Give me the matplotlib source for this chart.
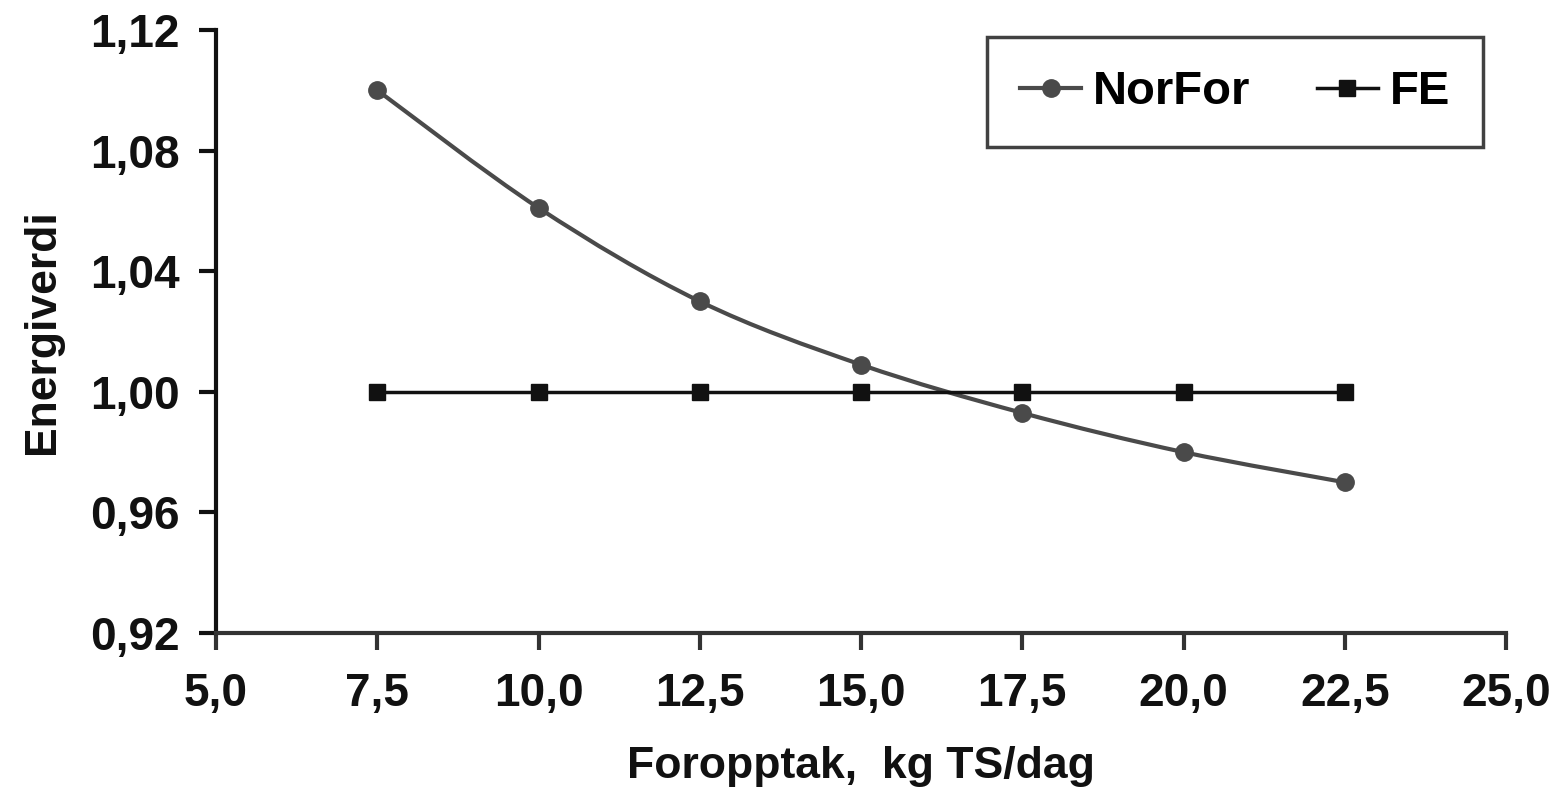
import numpy as np
import matplotlib
matplotlib.use("Agg")
import matplotlib.pyplot as plt
from matplotlib.path import Path
from matplotlib.patches import PathPatch
from matplotlib.lines import Line2D
from matplotlib.ticker import FuncFormatter

# data
foropptak = [7.5, 10.0, 12.5, 15.0, 17.5, 20.0, 22.5]
norfor = [1.100, 1.061, 1.030, 1.009, 0.993, 0.980, 0.970]
fe = [1.00, 1.00, 1.00, 1.00, 1.00, 1.00, 1.00]

x_ticks = [5.0, 7.5, 10.0, 12.5, 15.0, 17.5, 20.0, 22.5, 25.0]
y_ticks = [0.92, 0.96, 1.00, 1.04, 1.08, 1.12]

plt.rcParams['font.family'] = ['Liberation Sans', 'DejaVu Sans']
plt.rcParams['font.weight'] = 'bold'


def smooth_path(xs, ys):
    # Excel-style smoothed line as cubic bezier through the points
    pts = np.column_stack([xs, ys])
    n = len(pts)
    verts = [pts[0]]
    codes = [Path.MOVETO]
    for i in range(n - 1):
        p0 = pts[max(i - 1, 0)]
        p1 = pts[i]
        p2 = pts[i + 1]
        p3 = pts[min(i + 2, n - 1)]
        c1 = p1 + (p2 - p0) / 6.0
        c2 = p2 - (p3 - p1) / 6.0
        verts += [c1, c2, p2]
        codes += [Path.CURVE4] * 3
    return Path(verts, codes)


fig = plt.figure(figsize=(15.59, 8.06), dpi=100)
ax = fig.add_axes([0.1386, 0.2146, 0.966 - 0.1386, 0.9628 - 0.2146])

grey = '#4a4a4a'
ink = '#111111'
ax.add_patch(PathPatch(smooth_path(foropptak, norfor), fill=False,
                       edgecolor=grey, linewidth=3, zorder=2))
ax.plot(foropptak, norfor, linestyle='none', marker='o', markersize=12.5,
        color=grey, zorder=3)
ax.plot(foropptak, fe, color=ink, linewidth=2.5, marker='s',
        markersize=11, zorder=3)

ax.set_xlim(5.0, 25.0)
ax.set_ylim(0.92, 1.12)
ax.set_xticks(x_ticks)
ax.set_yticks(y_ticks)
ax.xaxis.set_major_formatter(FuncFormatter(lambda v, p: f"{v:.1f}".replace('.', ',')))
ax.yaxis.set_major_formatter(FuncFormatter(lambda v, p: f"{v:.2f}".replace('.', ',')))

for s in ['top', 'right']:
    ax.spines[s].set_visible(False)
ax.spines['left'].set_linewidth(3)
ax.spines['left'].set_color(ink)
ax.spines['bottom'].set_linewidth(3)
ax.spines['bottom'].set_color('#333333')

ax.tick_params(axis='y', direction='out', length=12, width=3, colors=ink,
               labelsize=33, pad=14)
ax.tick_params(axis='x', direction='out', length=12, width=3, color='#333333',
               labelcolor=ink, labelsize=33, pad=16)
for lab in ax.get_xticklabels() + ax.get_yticklabels():
    lab.set_fontweight('bold')

ax.set_xlabel('Foropptak,  kg TS/dag', fontsize=32, fontweight='bold',
              color=ink, labelpad=22)
ax.set_ylabel('Energiverdi', fontsize=32, fontweight='bold',
              color=ink, labelpad=20)

handles = [
    Line2D([], [], color=grey, linewidth=3, marker='o', markersize=12.5),
    Line2D([], [], color=ink, linewidth=2.5, marker='s', markersize=11),
]
leg = ax.legend(handles, ['NorFor', 'FE'], loc='center',
                bbox_to_anchor=(0.790, 0.897),
                bbox_transform=ax.transAxes, ncol=2,
                prop={'size': 34, 'weight': 'bold'}, frameon=True,
                fancybox=False, handlelength=1.3, handletextpad=0.25,
                columnspacing=1.4, borderaxespad=0, borderpad=0.7)
leg.get_frame().set_edgecolor(ink)
leg.get_frame().set_linewidth(2.5)

fig.savefig('out.png', dpi=100, facecolor='white')
